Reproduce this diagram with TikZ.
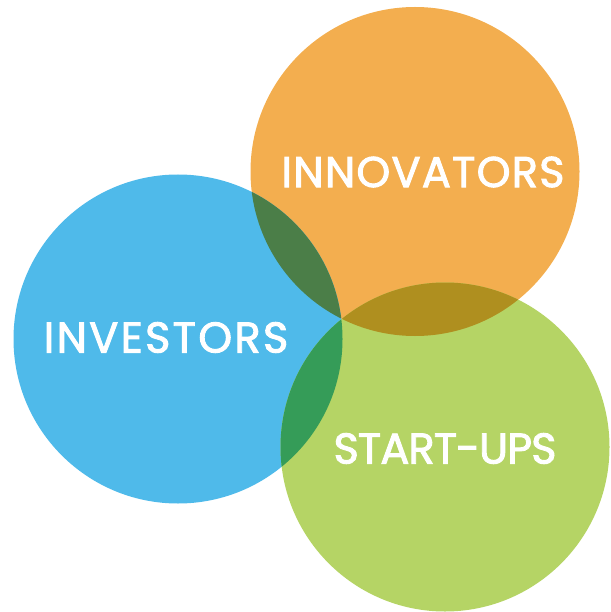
\documentclass[tikz,border=0pt]{standalone}
\usepackage{fontspec}
\setmainfont{Poppins}[FakeBold=2.2]
\definecolor{corange}{HTML}{F3AE4F}
\definecolor{cblue}{HTML}{4FBAEA}
\definecolor{cgreen}{HTML}{B5D465}
\definecolor{cbo}{HTML}{4B7E48}
\definecolor{cog}{HTML}{AF8F1F}
\definecolor{cbg}{HTML}{359C58}
\begin{document}
\begin{tikzpicture}[x=1pt,y=-1pt,
  lbl/.style={text=white,inner sep=0pt,font=\fontsize{43}{43}\selectfont\addfontfeature{LetterSpace=#1}}]
\useasboundingbox (0,0) rectangle (610,612);
\def\R{164.5}
\coordinate (O) at (415,171.5);
\coordinate (B) at (178,339);
\coordinate (G) at (445,447);
\fill[corange] (O) circle (\R);
\fill[cblue] (B) circle (\R);
\fill[cgreen] (G) circle (\R);
\begin{scope}\clip (B) circle (\R); \fill[cbo] (O) circle (\R);\end{scope}
\begin{scope}\clip (O) circle (\R); \fill[cog] (G) circle (\R);\end{scope}
\begin{scope}\clip (B) circle (\R); \fill[cbg] (G) circle (\R);\end{scope}
\node[lbl=3] (inn) at (423,172) {INNOVATORS};
\node[lbl=5.5] (inv) at (166,337.5) {INVESTORS};
\node[lbl=-2] (sta) at (445,448.5) {START-UPS};
\end{tikzpicture}
\end{document}
